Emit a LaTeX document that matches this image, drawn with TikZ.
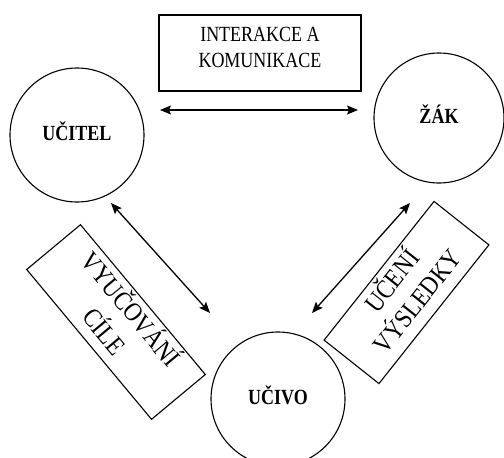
\documentclass[tikz,border=0pt]{standalone}
\usepackage{fontspec}
\usepackage{graphicx}
\setmainfont{Liberation Serif}
\usetikzlibrary{arrows.meta}
\newcommand{\vstr}[2]{\scalebox{1}[#1]{\begin{tabular}{@{}c@{}}#2\end{tabular}}}
\tikzset{
  circ/.style={circle, draw, line width=1.1pt, minimum size=134pt, inner sep=0pt, font=\fontsize{18}{20}\selectfont\bfseries},
  labbox/.style={rectangle, draw, line width=1.1pt, inner sep=0pt, align=center},
  arr/.style={line width=1.3pt, {Stealth[length=11pt,width=9pt,inset=2pt]}-{Stealth[length=11pt,width=9pt,inset=2pt]}}
}
\begin{document}
\begin{tikzpicture}[x=1pt,y=-1pt]
\useasboundingbox (0,0) rectangle (504,458);
\node[circ] (ucitel) at (77,135) {\vstr{1.2}{UČITEL}};
\node[circ, minimum size=130pt] (zak) at (439,118) {\vstr{1.2}{ŽÁK}};
\node[circ] (ucivo) at (278,399) {\vstr{1.2}{UČIVO}};
\node[labbox, minimum width=202pt, minimum height=76pt, font=\fontsize{18}{21}\selectfont] (ik) at (260,53) {};
\node[font=\fontsize{18}{21}\selectfont, inner sep=0pt] (iktext) at (260,49.5) {\vstr{1.2}{INTERAKCE A\\KOMUNIKACE}};
\node[labbox, minimum width=195pt, minimum height=70pt, rotate=-50.2, font=\fontsize{23}{30}\selectfont] (vc) at (116,322) {\vstr{1.15}{VYUČOVÁNÍ\\CÍLE}};
\node[labbox, minimum width=177pt, minimum height=70pt, rotate=51.6, font=\fontsize{23}{28}\selectfont] (uv) at (406.5,292.5) {\vstr{1.15}{UČENÍ\\VÝSLEDKY}};
\coordinate (h1) at (160,110);
\coordinate (h2) at (358,110);
\coordinate (l1) at (111,203);
\coordinate (l2) at (210,313);
\coordinate (r1) at (410,203);
\coordinate (r2) at (312,313);
\draw[arr] (h1) -- (h2);
\draw[arr] (l1) -- (l2);
\draw[arr] (r1) -- (r2);
\end{tikzpicture}
\end{document}
